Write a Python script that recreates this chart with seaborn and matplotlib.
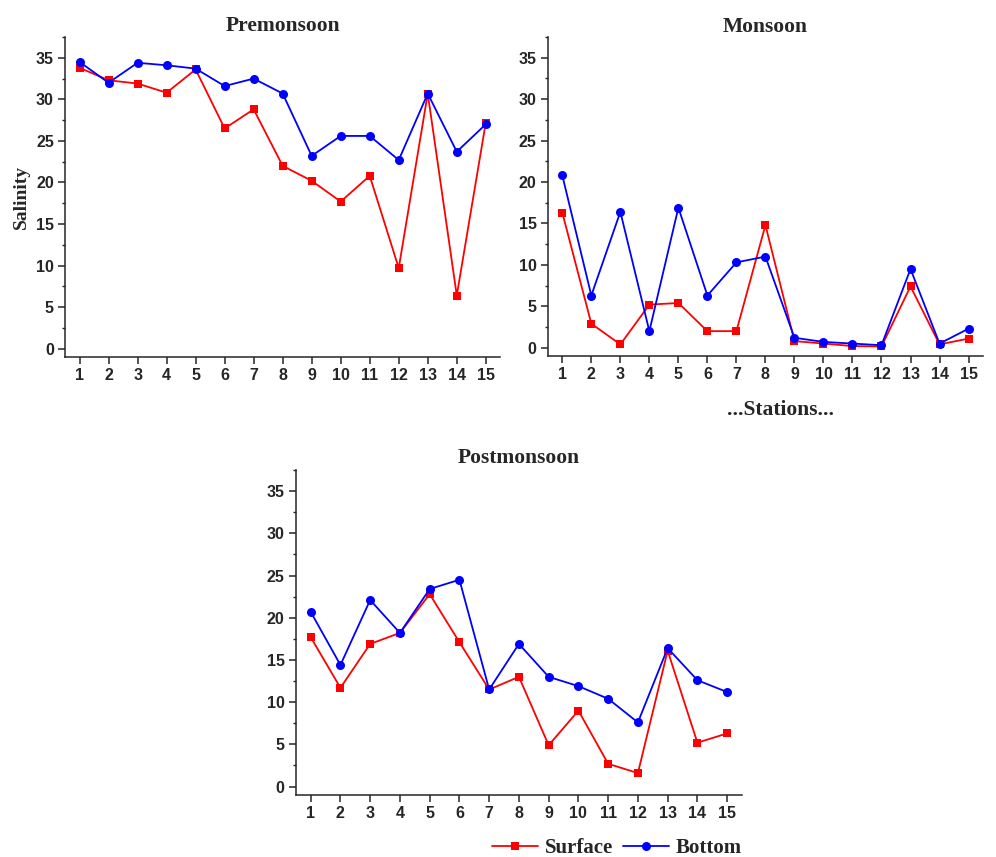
import numpy as np
import pandas as pd
import seaborn as sns
import matplotlib.pyplot as plt
from matplotlib.ticker import MultipleLocator

# salinity at 15 stations
stations = list(range(1, 16))

pre_surface = [33.8, 32.3, 31.9, 30.8, 33.6, 26.5, 28.8, 22.0, 20.2, 17.7, 20.8, 9.7, 30.7, 6.4, 27.2]
pre_bottom = [34.5, 32.0, 34.4, 34.1, 33.7, 31.6, 32.5, 30.7, 23.2, 25.6, 25.6, 22.7, 30.7, 23.7, 27.0]

mon_surface = [16.3, 2.9, 0.4, 5.2, 5.4, 2.0, 2.0, 14.8, 0.8, 0.5, 0.2, 0.15, 7.4, 0.4, 1.1]
mon_bottom = [20.8, 6.3, 16.4, 2.0, 16.9, 6.3, 10.3, 11.0, 1.2, 0.7, 0.5, 0.3, 9.5, 0.5, 2.3]

post_surface = [17.7, 11.7, 16.9, 18.2, 22.8, 17.1, 11.5, 13.0, 4.9, 9.0, 2.7, 1.6, 16.1, 5.2, 6.3]
post_bottom = [20.7, 14.4, 22.1, 18.2, 23.4, 24.5, 11.5, 16.9, 13.0, 11.9, 10.4, 7.6, 16.4, 12.6, 11.2]

sns.set_style("ticks")
plt.rcParams['font.family'] = ['Liberation Sans', 'DejaVu Sans']
plt.rcParams['font.weight'] = 'bold'

serif = ['Liberation Serif', 'DejaVu Serif']

fig = plt.figure(figsize=(9.96, 8.57), dpi=100)

panels = [
    ("Premonsoon", pre_surface, pre_bottom, [0.0653, 0.5834, 0.437, 0.3734], 4),
    ("Monsoon", mon_surface, mon_bottom, [0.550, 0.5846, 0.437, 0.3722], 1),
    ("Postmonsoon", post_surface, post_bottom, [0.297, 0.0723, 0.448, 0.3793], 5),
]

axes = []
for title, surf, bot, pos, pad in panels:
    ax = fig.add_axes(pos)
    df = pd.DataFrame({'Station': stations, 'Surface': surf, 'Bottom': bot})
    sns.lineplot(data=df, x='Station', y='Surface', ax=ax, color='#ff0000', marker='s',
                 markersize=6, markeredgewidth=0, linewidth=1.3, label='Surface', legend=False)
    sns.lineplot(data=df, x='Station', y='Bottom', ax=ax, color='#0000ff', marker='o',
                 markersize=6.5, markeredgewidth=0, linewidth=1.3, label='Bottom', legend=False)
    ax.set_xlim(0.5, 15.5)
    ax.set_ylim(-1, 37.5)
    ax.set_xticks(stations)
    ax.yaxis.set_major_locator(MultipleLocator(5))
    ax.yaxis.set_minor_locator(MultipleLocator(2.5))
    ax.tick_params(axis='both', which='major', direction='out', length=5, width=1.1,
                   labelsize=11.5, pad=3)
    ax.tick_params(axis='y', which='minor', direction='out', length=2.5, width=1.0)
    for lab in ax.get_xticklabels() + ax.get_yticklabels():
        lab.set_fontweight('bold')
    sns.despine(ax=ax)
    for s in ['left', 'bottom']:
        ax.spines[s].set_linewidth(1.1)
    ax.set_xlabel('')
    ax.set_ylabel('')
    ax.set_title(title, family=serif, fontweight='bold', fontsize=15.5, pad=pad)
    axes.append(ax)

axes[0].set_ylabel('Salinity', family=serif, fontweight='bold', fontsize=14, labelpad=4)

fig.text(780 / 996, 1 - 410 / 857, '...Stations...', family=serif, fontweight='bold',
         fontsize=15.5, ha='center', va='center')

handles, labels = axes[2].get_legend_handles_labels()
fig.legend(handles, labels, loc='center', bbox_to_anchor=(617 / 996, 1 - 848 / 857), ncol=2,
           frameon=False, handlelength=2.2, handletextpad=0.35, columnspacing=0.45,
           prop={'family': serif, 'weight': 'bold', 'size': 15})

fig.savefig('out.png', dpi=100)
